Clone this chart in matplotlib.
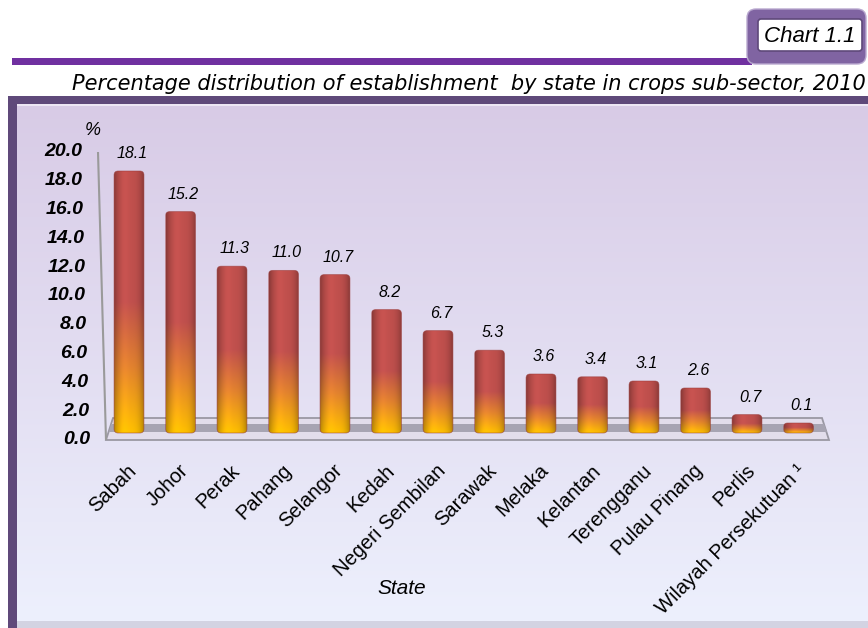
import matplotlib
matplotlib.use("Agg")
import matplotlib.pyplot as plt
import matplotlib.transforms as mtransforms
from matplotlib.patches import FancyBboxPatch, Rectangle, Polygon
from matplotlib.colors import to_rgb
import numpy as np

# data
states = ["Sabah", "Johor", "Perak", "Pahang", "Selangor", "Kedah",
          "Negeri Sembilan", "Sarawak", "Melaka", "Kelantan", "Terengganu",
          "Pulau Pinang", "Perlis", "Wilayah Persekutuan \u00b9"]
pct = [18.1, 15.2, 11.3, 11.0, 10.7, 8.2, 6.7, 5.3, 3.6, 3.4, 3.1, 2.6, 0.7, 0.1]
yticks = [0.0, 2.0, 4.0, 6.0, 8.0, 10.0, 12.0, 14.0, 16.0, 18.0, 20.0]

title = "Percentage distribution of establishment  by state in crops sub-sector, 2010"

plt.rcParams['font.family'] = ['Liberation Sans', 'DejaVu Sans']

W, H = 868, 628
fig = plt.figure(figsize=(W / 100, H / 100), dpi=100)


def px(x0, y0, x1, y1):
    # pixel box (top-left origin) -> figure fraction
    return [x0 / W, 1 - y1 / H, (x1 - x0) / W, (y1 - y0) / H]


# background / decoration axes in pixel units
bg = fig.add_axes([0, 0, 1, 1], zorder=0)
bg.set_xlim(0, W)
bg.set_ylim(H, 0)
bg.axis('off')

# header line and chart number box
bg.add_patch(Rectangle((12, 58), 740, 7, color='#7030A0', lw=0))
bg.add_patch(FancyBboxPatch((747, 9), 119, 55, boxstyle="round,pad=0,rounding_size=9",
                            facecolor='#8064A2', edgecolor='#B9A8CF', lw=1))
bg.add_patch(FancyBboxPatch((758, 19), 104, 32, boxstyle="round,pad=0,rounding_size=3",
                            facecolor='white', edgecolor='#5F497A', lw=1.2))
bg.text(764, 36, "Chart 1.1", fontsize=16, style='italic', ha='left', va='center')
bg.text(72, 84, title, fontsize=15, style='italic', ha='left', va='center',
        family=['DejaVu Sans'])

# panel
bg.add_patch(Rectangle((8, 96), 900, 560, color='#5F497A', lw=0))
grad = np.linspace(0, 1, 256)[:, None]
c_top = np.array(to_rgb('#D8CBE6'))
c_bot = np.array(to_rgb('#EDF0FD'))
img = c_top[None, None, :] * (1 - grad[..., None]) + c_bot[None, None, :] * grad[..., None]
img = np.repeat(img, 2, axis=1)
bg.imshow(img, extent=(17, 900, 621, 104), aspect='auto', zorder=1)
bg.add_patch(Rectangle((17, 104), 900, 2, color='#EDE6F4', lw=0, zorder=1.5))
bg.add_patch(Rectangle((17, 621), 900, 10, color='#D3D3E2', lw=0, zorder=1.5))

# floor
bg.add_patch(Polygon([(113, 418), (822, 418), (829, 440), (106, 440)], closed=True,
                     facecolor='#E2DDEB', edgecolor='#9A98A3', lw=1.3, zorder=2))
bg.add_patch(Polygon([(111, 424), (824, 424), (827, 432), (109, 432)], closed=True,
                     facecolor='#A7A4B2', edgecolor='none', zorder=2.1))

# value axis (tick labels + wall line)
tax = fig.add_axes(px(0, 152, 110, 440), zorder=2)
tax.set_xlim(0, 110)
tax.set_ylim(0, 20)
tax.axis('off')
tax.plot([106, 98], [0, 20], color='#9A9A9A', lw=1.5)
for v in yticks:
    tax.text(90 - 8 * v / 20, v, f"{v:.1f}", fontsize=14, weight='bold', style='italic',
             ha='right', va='center')
tax.text(93, 20, "%", fontsize=13, style='italic', ha='center', va='bottom',
         transform=mtransforms.offset_copy(tax.transData, fig=fig, y=13, units='dots'))

# bars
x_c0, x_step = 129, 51.5
y_zero, y_scale = 424.4, 14.0
ax = fig.add_axes(px(100, 130, 830, 440), zorder=3)
ax.set_xlim((100 - x_c0) / x_step, (830 - x_c0) / x_step)
ax.set_ylim(-(440 - y_zero) / y_scale, (y_zero - 130) / y_scale)
ax.patch.set_alpha(0)
for s in ax.spines.values():
    s.set_visible(False)
ax.set_yticks([])

bw = 0.58
base = -(433 - y_zero) / y_scale
red = np.array(to_rgb('#C0504D'))
orange = np.array(to_rgb('#E2822E'))
yellow = np.array(to_rgb('#FFC000'))

for i, v in enumerate(pct):
    t = np.linspace(0, 1, 200)[:, None, None]  # 0 top -> 1 bottom
    col = np.where(t < 0.5, red,
                   np.where(t < 0.75,
                            red + (orange - red) * ((t - 0.5) / 0.25),
                            orange + (yellow - orange) * ((t - 0.75) / 0.25)))
    u = np.linspace(0, 1, 60)[None, :]
    shade = 1 - 0.28 * np.abs(2 * u - 1) ** 3 + 0.05 * np.exp(-((u - 0.35) / 0.15) ** 2)
    rgb = np.clip(col * shade[..., None], 0, 1)
    patch = FancyBboxPatch((i - bw / 2, base), bw, v - base,
                           boxstyle="round,pad=0,rounding_size=0.08",
                           mutation_aspect=x_step / y_scale,
                           facecolor='none', edgecolor='none')
    ax.add_patch(patch)
    im = ax.imshow(rgb, extent=(i - bw / 2, i + bw / 2, base, v), aspect='auto',
                   interpolation='bilinear', zorder=3)
    im.set_clip_path(patch)
    ax.add_patch(FancyBboxPatch((i - bw / 2, base), bw, v - base,
                                boxstyle="round,pad=0,rounding_size=0.08",
                                mutation_aspect=x_step / y_scale,
                                facecolor='none', edgecolor='#9A3A38', lw=0.6,
                                alpha=0.6, zorder=4))
    ax.annotate(f"{v:.1f}", (i, v), xytext=(3, 10), textcoords='offset pixels',
                ha='center', va='bottom', fontsize=11.5, style='italic')

ax.set_xticks(range(len(states)))
ax.set_xticklabels(states, rotation=45, ha='right', va='top', rotation_mode='anchor',
                   fontsize=14.5)
ax.tick_params(axis='x', length=0, pad=15)
offset = mtransforms.ScaledTranslation(-2 / 100, 0, fig.dpi_scale_trans)
for lab in ax.get_xticklabels():
    lab.set_transform(lab.get_transform() + offset)

bg.text(402, 588, "State", fontsize=15, style='italic', ha='center', va='center', zorder=5)

fig.savefig("out.png", dpi=100)
